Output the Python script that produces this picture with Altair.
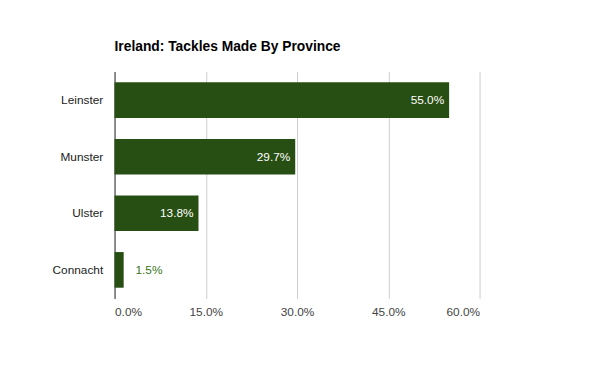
import altair as alt
import pandas as pd

provinces = ["Leinster", "Munster", "Ulster", "Connacht"]
shares = [0.550, 0.297, 0.138, 0.015]
x_ticks = [0, 0.15, 0.30, 0.45, 0.60]

df = pd.DataFrame({"province": provinces, "share": shares})

FONT = "Liberation Sans"

y_enc = alt.Y("province:N", sort=provinces, title=None,
              scale=alt.Scale(paddingInner=0.37, paddingOuter=0.19),
              axis=alt.Axis(ticks=False, domain=True, domainColor="#333333",
                            labelFont=FONT, labelFontSize=12, labelColor="#222222",
                            labelPadding=12))
x_enc = alt.X("share:Q", title=None,
              scale=alt.Scale(domain=[0, 0.6], nice=False),
              axis=alt.Axis(values=x_ticks, format=".1%", ticks=False, domain=False,
                            grid=True, gridColor="#cccccc", labelFont=FONT,
                            labelFontSize=12, labelColor="#444444", labelPadding=8))

bars = alt.Chart(df).mark_bar(color="#274e13").encode(x=x_enc, y=y_enc)

inside = alt.Chart(df).transform_filter("datum.share > 0.05").mark_text(
    align="right", baseline="middle", dx=-5, color="#ffffff", font=FONT, fontSize=12
).encode(x="share:Q", y=alt.Y("province:N", sort=provinces),
         text=alt.Text("share:Q", format=".1%"))

outside = alt.Chart(df).transform_filter("datum.share <= 0.05").mark_text(
    align="left", baseline="middle", dx=12, color="#38761d", font=FONT, fontSize=12
).encode(x="share:Q", y=alt.Y("province:N", sort=provinces),
         text=alt.Text("share:Q", format=".1%"))

chart = alt.layer(bars, inside, outside).properties(
    width=370, height=230,
    background="#ffffff",
    title=alt.Title("Ireland: Tackles Made By Province", anchor="start", frame="group",
                    font=FONT, fontSize=14, fontWeight="bold", color="#000000",
                    offset=18),
    autosize=alt.AutoSizeParams(type="none"),
    padding={"left": 108, "top": 62, "right": 114, "bottom": 63},
).configure_view(strokeWidth=0, stroke="transparent")

chart.save("out.html", embed_options={"renderer": "svg", "actions": False})
